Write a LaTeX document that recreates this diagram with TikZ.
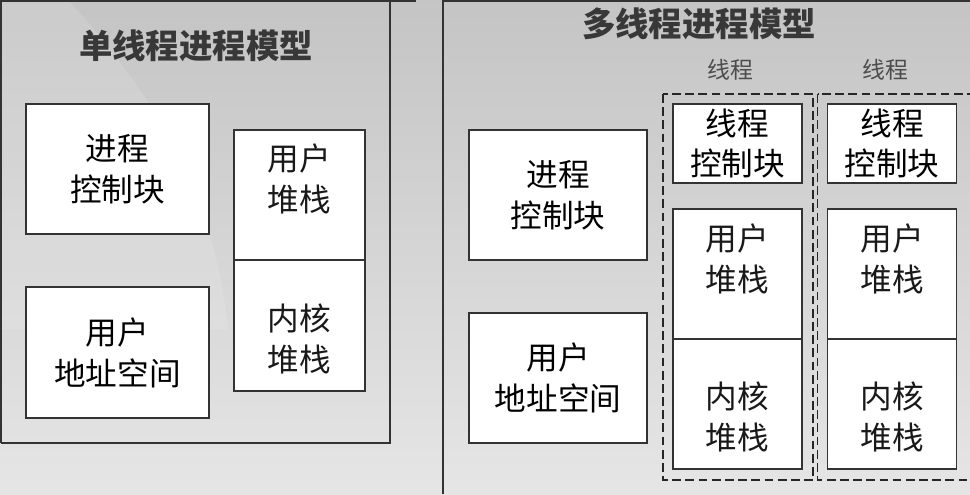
\documentclass[tikz,border=0pt]{standalone}
\usepackage{fontspec}
\setmainfont{Noto Sans CJK SC}
\usetikzlibrary{positioning}
\tikzset{
  blk/.style={draw=black!80, fill=white, line width=0.9pt, inner sep=0pt, outer sep=0pt, align=center, font=\fontsize{18}{23.3}\selectfont},
  txt/.style={align=center, text=black!90, font=\fontsize{18}{23.3}\selectfont},
  ttl/.style={text=black!78, font=\bfseries\fontsize{19}{22}\selectfont},
  thrlbl/.style={text=black!70, font=\fontsize{13}{15}\selectfont},
  panel/.style={draw=black!80, line width=0.9pt},
  thrbox/.style={draw=black!85, line width=0.9pt, dash pattern=on 5pt off 2.5pt},
}
\begin{document}
\begin{tikzpicture}[x=0.02cm, y=-0.02cm]
  \clip (0,0) rectangle (970,494);
  \shade[top color=black!23, bottom color=black!10] (0,0) rectangle (970,494);
  \fill[white, opacity=0.12] (0,0) -- (68,0) .. controls (150,90) and (215,190) .. (228,330) -- (0,330) -- cycle;

  % single thread
  \draw[panel] (1,443) -- (1,1) -- (416,1) (390,1) -- (390,443) -- (1,443);
  \node[ttl] (t1) at (196,46) {单线程进程模型};
  \node[blk, minimum width=3.66cm, minimum height=2.6cm] (pcb1) at (117.5,169) {进程\\控制块};
  \node[blk, minimum width=3.66cm, minimum height=2.62cm] (uas1) at (117.5,352.5) {用户\\地址空间};
  \node[blk, minimum width=2.62cm, minimum height=2.6cm] (us1) at (299.5,195) {};
  \node[blk, minimum width=2.62cm, minimum height=2.62cm, below=0pt of us1] (ks1) {};
  \node[txt] (us1t) at ([yshift=0.32cm]us1.center) {用户\\堆栈};
  \node[txt] (ks1t) at ([yshift=-0.26cm]ks1.center) {内核\\堆栈};

  % multi thread
  \draw[panel] (443,494) -- (443,1) -- (970,1);
  \node[ttl] (t2) at (699,24) {多线程进程模型};
  \node[blk, minimum width=3.56cm, minimum height=2.6cm] (pcb2) at (558,195) {进程\\控制块};
  \node[blk, minimum width=3.56cm, minimum height=2.6cm] (uas2) at (558,378) {用户\\地址空间};
  \foreach \i/\x/\r in {1/737.5/813, 2/892/985} {
    \draw[thrbox] (\x-74.5,94) rectangle (\r,480);
    \node[thrlbl] (lbl\i) at (\x-7,70) {线程};
    \node[blk, minimum width=2.58cm, minimum height=1.58cm] (tcb\i) at (\x,143.5) {线程\\控制块};
    \node[blk, minimum width=2.58cm, minimum height=2.6cm] (us\i) at (\x,274) {};
    \node[blk, minimum width=2.58cm, minimum height=2.6cm, below=0pt of us\i] (ks\i) {};
    \node[txt] (us\i t) at ([yshift=0.31cm]us\i.center) {用户\\堆栈};
    \node[txt] (ks\i t) at ([yshift=-0.26cm]ks\i.center) {内核\\堆栈};
  }
\end{tikzpicture}
\end{document}
